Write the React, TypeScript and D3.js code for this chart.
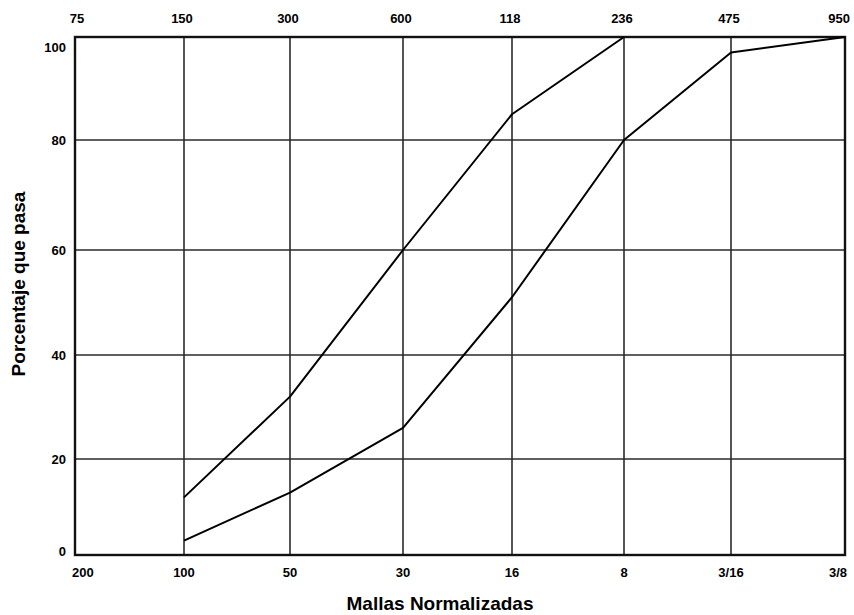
import React, { useEffect, useRef } from 'react'
import * as d3 from 'd3'

// sieve sizes (bottom = mesh, top = opening as printed)
const meshLabels = ['200', '100', '50', '30', '16', '8', '3/16', '3/8']
const openingLabels = ['75', '150', '300', '600', '118', '236', '475', '950']
const yTicks = [0, 20, 40, 60, 80, 100]

// % passing, upper and lower limit curves
const upperMesh = ['100', '50', '30', '16', '8']
const upperPct = [12, 32, 60, 85, 100]
const lowerMesh = ['100', '50', '30', '16', '8', '3/16', '3/8']
const lowerPct = [3, 13, 26, 51, 80, 97, 100]

export default function App() {
  const svgRef = useRef<SVGSVGElement>(null)

  useEffect(() => {
    const svg = d3.select(svgRef.current)
    svg.selectAll('*').remove()

    const width = 854
    const height = 615
    const left = 75, right = 845, top = 37, bottom = 555

    // the scanned grid is slightly uneven, so follow it piecewise
    const xIdx = d3.scaleLinear()
      .domain(d3.range(meshLabels.length))
      .range([left, 184, 290, 403, 512, 624, 731, right])
    const x = (m: string) => xIdx(meshLabels.indexOf(m))
    const y = d3.scaleLinear()
      .domain(yTicks)
      .range([bottom, 459, 355, 250, 140, top])

    svg.attr('viewBox', `0 0 ${width} ${height}`)
      .attr('width', width).attr('height', height)

    const font = '"Liberation Sans", Arial, sans-serif'
    const g = svg.append('g')

    // grid
    g.selectAll('.vgrid')
      .data(meshLabels)
      .join('line')
      .attr('x1', d => x(d)).attr('x2', d => x(d))
      .attr('y1', top).attr('y2', bottom)
      .attr('stroke', '#2a2a2a').attr('stroke-width', 1.6)

    g.selectAll('.hgrid')
      .data(yTicks)
      .join('line')
      .attr('x1', left).attr('x2', right)
      .attr('y1', d => y(d)).attr('y2', d => y(d))
      .attr('stroke', '#2a2a2a').attr('stroke-width', 1.4)

    // frame
    g.append('rect')
      .attr('x', left).attr('y', top)
      .attr('width', right - left).attr('height', bottom - top)
      .attr('fill', 'none').attr('stroke', '#111').attr('stroke-width', 2.4)

    // curves
    const line = d3.line<[string, number]>()
      .x(d => x(d[0]))
      .y(d => y(d[1]))

    const series: [string, number][][] = [
      upperMesh.map((m, i) => [m, upperPct[i]]),
      lowerMesh.map((m, i) => [m, lowerPct[i]]),
    ]
    g.selectAll('.curve')
      .data(series)
      .join('path')
      .attr('d', d => line(d))
      .attr('fill', 'none')
      .attr('stroke', '#000')
      .attr('stroke-width', 2)
      .attr('stroke-linejoin', 'round')

    const last = meshLabels.length - 1

    // tick labels
    g.selectAll('.toplab')
      .data(openingLabels)
      .join('text')
      .attr('x', (d, i) => i === 0 ? xIdx(i) + 2 : i === last ? xIdx(i) + 5 : xIdx(i) - 2)
      .attr('y', 23)
      .attr('text-anchor', (d, i) => i === last ? 'end' : 'middle')
      .attr('font-family', font).attr('font-weight', 'bold').attr('font-size', 13)
      .text(d => d)

    g.selectAll('.botlab')
      .data(meshLabels)
      .join('text')
      .attr('x', (d, i) => i === 0 ? left - 3 : i === last ? right + 2 : x(d))
      .attr('y', 577)
      .attr('text-anchor', (d, i) => i === 0 ? 'start' : i === last ? 'end' : 'middle')
      .attr('font-family', font).attr('font-weight', 'bold').attr('font-size', 13)
      .text(d => d)

    g.selectAll('.ylab')
      .data(yTicks)
      .join('text')
      .attr('x', 66)
      .attr('y', d => Math.min(Math.max(y(d), top + 10), bottom - 4) + 5)
      .attr('text-anchor', 'end')
      .attr('font-family', font).attr('font-weight', 'bold').attr('font-size', 13)
      .text(d => d)

    // axis titles
    svg.append('text')
      .attr('x', 440).attr('y', 610)
      .attr('text-anchor', 'middle')
      .attr('font-family', font).attr('font-weight', 'bold').attr('font-size', 19)
      .text('Mallas Normalizadas')

    svg.append('text')
      .attr('transform', 'translate(25,284) rotate(-90)')
      .attr('text-anchor', 'middle')
      .attr('font-family', font).attr('font-weight', 'bold').attr('font-size', 19)
      .text('Porcentaje que pasa')
  }, [])

  return (
    <svg
      ref={svgRef}
      style={{ position: 'absolute', left: 0, top: 0, background: '#fff' }}
    />
  )
}
